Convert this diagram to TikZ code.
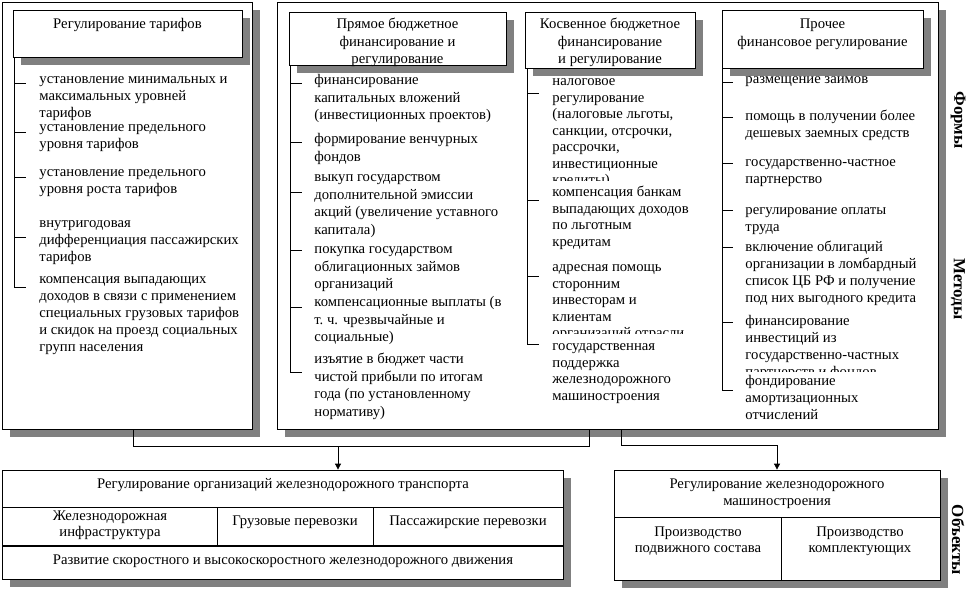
\documentclass[tikz,border=0pt]{standalone}
\usepackage{fontspec}
\setmainfont{Liberation Serif}
\usetikzlibrary{shadows,arrows.meta}
\definecolor{shd}{RGB}{128,128,128}
\newcommand\ft{\rule{0pt}{11pt}}
\begin{document}
\begin{tikzpicture}[x=1pt,y=-1pt,line width=0.8pt,
  box/.style={draw,fill=white,inner sep=0pt,rectangle,
    drop shadow={shadow xshift=8pt,shadow yshift=-8pt,fill=shd,opacity=1}},
  item/.style={inner sep=0pt,anchor=north west,align=left,font=\fontsize{14.7}{17}\selectfont},
  itemw/.style={item,font=\fontsize{14.7}{17.5}\selectfont},
  itemn/.style={item,font=\fontsize{14.7}{16.5}\selectfont},
  ttl/.style={inner sep=0pt,anchor=north,align=center,font=\fontsize{14.7}{17.5}\selectfont},
  side/.style={inner sep=0pt,rotate=-90,font=\fontsize{17}{19}\selectfont\bfseries},
  arr/.style={-{Triangle[width=6pt,length=6pt]}}]
\useasboundingbox (0,0) rectangle (973,597);

% big boxes
\node[box,minimum width=250pt,minimum height=427pt] (lbox) at (127,215.5) {};
\node[box,minimum width=661pt,minimum height=427pt] (mbox) at (607.5,215.5) {};

% left column items
\node[item] (l1) at (39,72.2) {\ft установление минимальных и\\максимальных уровней\\тарифов};
\node[item] (l2) at (39,120.2) {\ft установление предельного\\уровня тарифов};
\node[item] (l3) at (39,165.2) {\ft установление предельного\\уровня роста тарифов};
\node[item] (l4) at (39,216.2) {\ft внутригодовая\\дифференциация пассажирских\\тарифов};
\node[item] (l5) at (39,272.2) {\ft компенсация выпадающих\\доходов в связи с применением\\специальных грузовых тарифов\\и скидок на проезд социальных\\групп населения};
\draw (14,57) -- (14,287) -- (26,287);
\foreach \y in {83,132,177,237} \draw (14,\y) -- (26,\y);

% column 1 items
\node[itemw] (a1) at (314,73.2) {\ft финансирование\\капитальных вложений\\(инвестиционных проектов)};
\node[itemw] (a2) at (314,132.2) {\ft формирование венчурных\\фондов};
\node[itemw] (a3) at (314,170.2) {\ft выкуп государством\\дополнительной эмиссии\\акций (увеличение уставного\\капитала)};
\node[itemw] (a4) at (314,242.2) {\ft покупка государством\\облигационных займов\\организаций};
\node[itemw] (a5) at (314,295.2) {\ft компенсационные выплаты (в\\т.~ч. чрезвычайные и\\социальные)};
\node[itemw] (a6) at (314,352.2) {\ft изъятие в бюджет части\\чистой прибыли по итогам\\года (по установленному\\нормативу)};
\draw (290,65) -- (290,372) -- (302,372);
\foreach \y in {83,142,192,250,307} \draw (290,\y) -- (302,\y);

% column 2 items
\begin{scope}
\clip (540,60) rectangle (720,180.5);
\node[itemn] (b1) at (552,74.2) {\ft налоговое\\регулирование\\(налоговые льготы,\\санкции, отсрочки,\\рассрочки,\\инвестиционные\\кредиты)};
\end{scope}
\node[itemn] (b2) at (552,185.2) {\ft компенсация банкам\\выпадающих доходов\\по льготным\\кредитам};
\begin{scope}
\clip (540,250) rectangle (720,333);
\node[itemn] (b3) at (552,260.2) {\ft адресная помощь\\сторонним\\инвесторам и\\клиентам\\организаций отрасли};
\end{scope}
\node[itemn] (b4) at (552,339.2) {\ft государственная\\поддержка\\железнодорожного\\машиностроения};
\draw (527,68) -- (527,344) -- (539,344);
\foreach \y in {93,200,276} \draw (527,\y) -- (539,\y);

% column 3 items
\node[item] (c1) at (745,72.2) {\ft размещение займов};
\node[item] (c2) at (745,109.2) {\ft помощь в получении более\\дешевых заемных средств};
\node[item] (c3) at (745,155.2) {\ft государственно-частное\\партнерство};
\node[item] (c4) at (745,203.2) {\ft регулирование оплаты\\труда};
\node[item] (c5) at (745,240.2) {\ft включение облигаций\\организации в ломбардный\\список ЦБ РФ и получение\\под них выгодного кредита};
\begin{scope}
\clip (735,300) rectangle (935,371);
\node[item] (c6) at (745,314.2) {\ft финансирование\\инвестиций из\\государственно-частных\\партнерств и фондов};
\end{scope}
\node[item] (c7) at (745,374.2) {\ft фондирование\\амортизационных\\отчислений};
\draw (722,68) -- (722,390) -- (733,390);
\foreach \y in {82,117,163,210,247,322} \draw (722,\y) -- (733,\y);

% title boxes
\node[box,minimum width=229pt,minimum height=47pt] (lt) at (127.5,33.5) {};
\node[ttl] (ltt) at (127.5,17.2) {\ft Регулирование тарифов};
\node[box,minimum width=217pt,minimum height=53pt] (t1) at (397.5,38.5) {};
\node[ttl] (t1t) at (397.5,17.2) {\ft Прямое бюджетное\\финансирование и\\регулирование};
\node[box,minimum width=170pt,minimum height=56pt] (t2) at (610,40) {};
\node[ttl] (t2t) at (610,17.2) {\ft Косвенное бюджетное\\финансирование\\и регулирование};
\node[box,minimum width=201pt,minimum height=58pt] (t3) at (822.5,39) {};
\node[ttl] (t3t) at (822.5,17.2) {\ft Прочее\\финансовое регулирование};

% side labels
\node[side] (sf) at (958,120) {Формы};
\node[side] (sm) at (958,289) {Методы};
\node[side] (so) at (958,540) {Объекты};

% bottom left box
\node[box,minimum width=561pt,minimum height=109pt] (bl) at (282.5,524.5) {};
\draw (2,507) -- (563,507);
\draw[line width=1.8pt] (2,546) -- (563,546);
\draw (217,507) -- (217,546);
\draw (373,507) -- (373,546);
\node[ttl] (blt) at (283,477.2) {\ft Регулирование организаций железнодорожного транспорта};
\node[ttl,font=\fontsize{14.7}{15.5}\selectfont] (bl1) at (110,509.2) {\ft Железнодорожная\\инфраструктура};
\node[ttl] (bl2) at (295,514.2) {\ft Грузовые перевозки};
\node[ttl] (bl3) at (468,514.2) {\ft Пассажирские перевозки};
\node[ttl] (bl4) at (283,553.2) {\ft Развитие скоростного и высокоскоростного железнодорожного движения};

% bottom right box
\node[box,minimum width=326pt,minimum height=110pt] (br) at (777,525) {};
\draw (614,517) -- (940,517);
\draw (781,517) -- (781,580);
\node[ttl,font=\fontsize{14.7}{17}\selectfont] (brt) at (777,477.2) {\ft Регулирование железнодорожного\\машиностроения};
\node[ttl,font=\fontsize{14.7}{16}\selectfont] (br1) at (698,525.2) {\ft Производство\\подвижного состава};
\node[ttl,font=\fontsize{14.7}{16}\selectfont] (br2) at (860,525.2) {\ft Производство\\комплектующих};

% connectors
\coordinate (jl) at (133,446);
\coordinate (jr) at (589,446);
\coordinate (ja) at (338,446);
\coordinate (jm) at (621,445);
\coordinate (jn) at (777,445);
\draw (lbox.south -| jl) -- (jl) -- (jr) -- (mbox.south -| jr);
\draw[arr] (ja) -- (bl.north -| ja);
\draw[arr] (mbox.south -| jm) -- (jm) -- (jn) -- (br.north -| jn);
\end{tikzpicture}
\end{document}
